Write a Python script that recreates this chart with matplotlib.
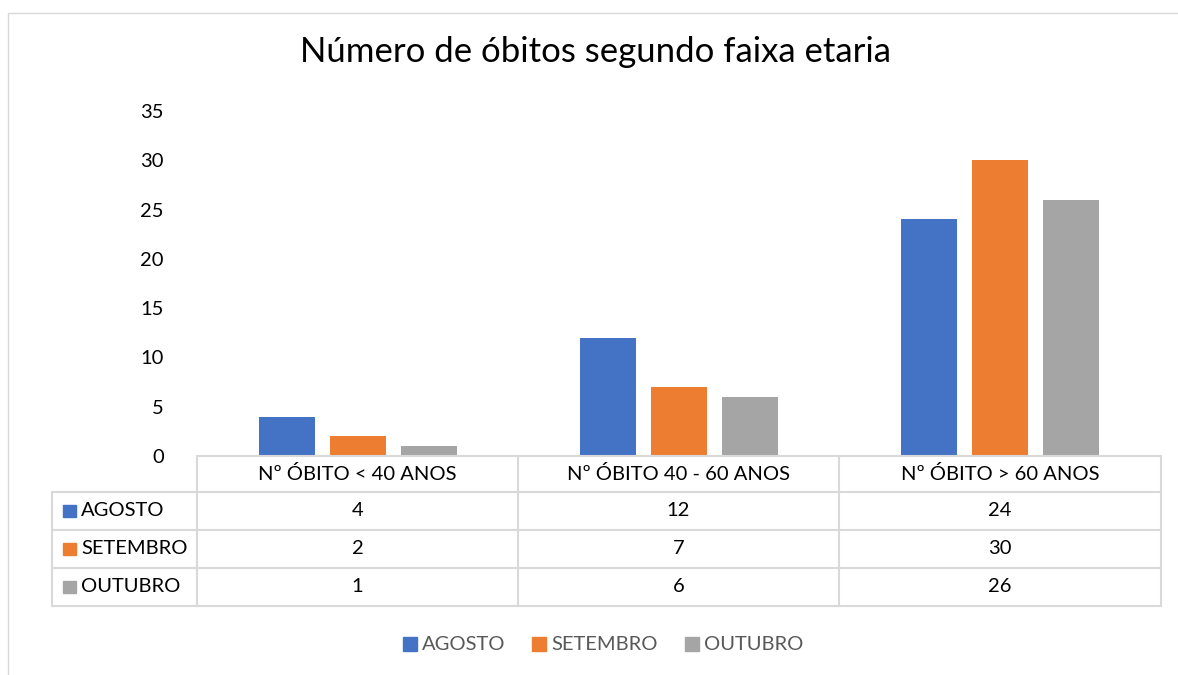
import matplotlib
matplotlib.use("Agg")
import matplotlib.pyplot as plt
from matplotlib.lines import Line2D
from matplotlib.patches import Rectangle

plt.rcParams['font.family'] = ['Lato', 'DejaVu Sans']

categories = ["Nº ÓBITO < 40 ANOS", "Nº ÓBITO 40 - 60 ANOS", "Nº ÓBITO > 60 ANOS"]
series_names = ["AGOSTO", "SETEMBRO", "OUTUBRO"]
agosto = [4, 12, 24]
setembro = [2, 7, 30]
outubro = [1, 6, 26]
series_values = [agosto, setembro, outubro]
colors = ["#4472C4", "#ED7D31", "#A5A5A5"]
yticks = [0, 5, 10, 15, 20, 25, 30, 35]

W, H = 1178, 675
fig = plt.figure(figsize=(W / 100, H / 100), dpi=100)

def fx(px):
    return px / W

def fy(py):
    return 1 - py / H

# chart frame
fig.add_artist(Rectangle((fx(7.5), fy(700)), fx(1200 - 7.5), fy(12.5) - fy(700),
                         transform=fig.transFigure, fill=False, ec="#D9D9D9", lw=1))

# plot area
x0, x1 = 197, 1161
ytop, ybot = 111, 456
ax = fig.add_axes([fx(x0), fy(ybot), fx(x1 - x0), fy(ytop) - fy(ybot)])
ax.set_xlim(0, 3)
ax.set_ylim(0, 35)
bw = 56 / 321
gap = 15 / 321
for i, vals in enumerate(series_values):
    xs = [c + 0.5 + (i - 1) * (bw + gap) for c in range(3)]
    ax.bar(xs, vals, width=bw, color=colors[i], zorder=2)
ax.set_yticks(yticks)
ax.set_xticks([])
ax.tick_params(axis='y', length=0, labelsize=14.5, pad=24, colors="#000000")
for s in ax.spines.values():
    s.set_visible(False)

fig.text(fx(595), fy(52), "Número de óbitos segundo faixa etaria",
         ha="center", va="center", fontsize=25, color="#000000")

# data table
lc = "#D9D9D9"
col_x = [197, 518, 839, 1161]
row_y = [456, 492, 530, 568, 606]
left_x = 52

def hline(xa, xb, y):
    fig.add_artist(Line2D([fx(xa), fx(xb)], [fy(y), fy(y)], transform=fig.transFigure, color=lc, lw=1.5))

def vline(x, ya, yb):
    fig.add_artist(Line2D([fx(x), fx(x)], [fy(ya), fy(yb)], transform=fig.transFigure, color=lc, lw=1.5))

hline(col_x[0], col_x[-1], row_y[0])
for y in row_y[1:]:
    hline(left_x, col_x[-1], y)
for x in col_x:
    vline(x, row_y[0], row_y[-1])
vline(left_x, row_y[1], row_y[-1])

for j, cat in enumerate(categories):
    cx = (col_x[j] + col_x[j + 1]) / 2
    fig.text(fx(cx), fy((row_y[0] + row_y[1]) / 2), cat, ha="center", va="center",
             fontsize=14.5, color="#000000")

for i, name in enumerate(series_names):
    cy = (row_y[i + 1] + row_y[i + 2]) / 2
    fig.add_artist(Rectangle((fx(63), fy(cy + 6)), fx(13), fy(cy - 6) - fy(cy + 6),
                             transform=fig.transFigure, color=colors[i]))
    fig.text(fx(81), fy(cy), name, ha="left", va="center", fontsize=14.5, color="#000000")
    for j, v in enumerate(series_values[i]):
        cx = (col_x[j] + col_x[j + 1]) / 2
        fig.text(fx(cx), fy(cy), str(v), ha="center", va="center", fontsize=14.5, color="#000000")

# legend
leg_y = 644
leg_x = [403, 532, 685]
for i, name in enumerate(series_names):
    fig.add_artist(Rectangle((fx(leg_x[i]), fy(leg_y + 7)), fx(14), fy(leg_y - 7) - fy(leg_y + 7),
                             transform=fig.transFigure, color=colors[i]))
    fig.text(fx(leg_x[i] + 19), fy(leg_y), name, ha="left", va="center", fontsize=14.5, color="#595959")

fig.savefig("out.png", dpi=100)
